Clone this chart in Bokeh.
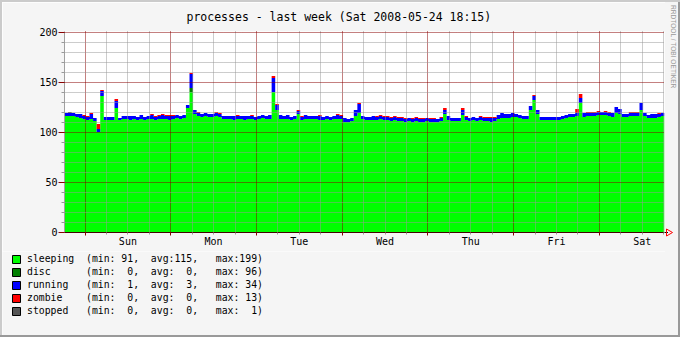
from datetime import datetime, timedelta
import numpy as np
from bokeh.plotting import figure
from bokeh.layouts import column, row
from bokeh.models import (ColumnDataSource, Range1d, LinearAxis, Grid, FixedTicker,
                          Legend, LegendItem, Div, Plot, CustomJSTickFormatter)
from bokeh.core.properties import value
from bokeh.embed import file_html
from bokeh.resources import INLINE

# ---------------- data (hourly, starting Sat 2008-05-17 18:15) ----------------
title_text = "processes - last week (Sat 2008-05-24 18:15)"
watermark_text = "RRDTOOL / TOBI OETIKER"
start_time = datetime(2008, 5, 17, 18, 15)
n_hours = 168

sleeping = [
    116, 116, 116, 115, 114, 113, 112, 113, 111, 100,
    136, 112, 112, 112, 124, 112, 113, 113, 112, 113,
    112, 113, 112, 113, 113, 112, 113, 113, 113, 112,
    113, 114, 113, 114, 124, 140, 118, 116, 115, 116,
    115, 115, 116, 115, 113, 113, 113, 112, 113, 113,
    112, 113, 113, 112, 113, 114, 113, 113, 140, 122,
    113, 113, 113, 112, 113, 118, 112, 113, 113, 113,
    113, 112, 112, 113, 112, 113, 113, 113, 110, 110,
    111, 116, 119, 113, 112, 112, 112, 112, 113, 112,
    112, 111, 112, 111, 111, 110, 111, 110, 111, 110,
    110, 111, 110, 110, 110, 111, 118, 112, 111, 111,
    111, 117, 112, 111, 112, 111, 112, 111, 111, 110,
    111, 113, 114, 114, 114, 115, 115, 114, 113, 113,
    122, 132, 118, 112, 112, 112, 112, 112, 112, 113,
    114, 115, 115, 116, 129, 115, 116, 116, 116, 117,
    117, 117, 116, 115, 119, 118, 115, 115, 116, 116,
    116, 122, 116, 114, 114, 114, 115, 116,
]
disc = [0] * 35 + [4] + [0] * 132
running = [
    3, 3, 3, 3, 4, 3, 3, 5, 3, 3,
    5, 3, 3, 3, 7, 2, 3, 3, 4, 3,
    3, 4, 3, 3, 4, 3, 3, 4, 3, 4,
    3, 3, 3, 3, 3, 14, 4, 3, 3, 3,
    3, 3, 3, 3, 3, 3, 3, 4, 3, 3,
    4, 3, 3, 3, 3, 3, 3, 4, 14, 5,
    4, 3, 4, 3, 3, 3, 3, 4, 3, 3,
    3, 4, 3, 3, 3, 3, 4, 3, 4, 3,
    3, 6, 9, 3, 3, 3, 4, 3, 3, 3,
    3, 3, 3, 3, 3, 3, 3, 3, 3, 3,
    3, 3, 3, 3, 3, 3, 4, 4, 3, 3,
    3, 5, 3, 3, 3, 3, 3, 3, 3, 4,
    3, 4, 5, 4, 4, 4, 3, 3, 3, 3,
    4, 4, 4, 3, 3, 3, 3, 3, 3, 3,
    3, 3, 3, 3, 5, 4, 3, 3, 3, 3,
    3, 3, 3, 4, 6, 5, 3, 3, 3, 3,
    3, 7, 3, 3, 4, 4, 3, 3,
]
zombie = [
    0, 0, 0, 0, 0, 1, 1, 1, 0, 5,
    1, 0, 0, 0, 2, 0, 0, 0, 0, 0,
    0, 0, 0, 0, 1, 1, 1, 1, 1, 1,
    1, 0, 0, 0, 0, 1, 0, 1, 0, 0,
    0, 0, 1, 1, 0, 0, 0, 0, 1, 0,
    0, 0, 1, 0, 0, 0, 0, 0, 2, 1,
    0, 0, 0, 0, 0, 1, 1, 0, 0, 0,
    0, 1, 0, 0, 0, 0, 1, 1, 0, 0,
    0, 0, 1, 0, 0, 0, 0, 1, 1, 1,
    1, 1, 1, 1, 1, 1, 0, 1, 1, 1,
    1, 0, 1, 1, 0, 1, 2, 0, 0, 0,
    0, 2, 1, 0, 0, 0, 1, 1, 1, 1,
    1, 0, 0, 0, 0, 0, 0, 0, 0, 0,
    0, 1, 0, 0, 0, 0, 0, 0, 0, 0,
    0, 0, 0, 4, 4, 0, 1, 1, 1, 1,
    0, 1, 1, 0, 0, 0, 0, 0, 1, 1,
    1, 0, 0, 0, 0, 0, 1, 0,
]
stopped = [0, 1] + [0] * 166

series_names = ["sleeping", "disc", "running", "zombie", "stopped"]
series_colors = ["#00FF00", "#007F00", "#0000FF", "#FF0000", "#555555"]
stat_min = [91, 0, 1, 0, 0]
stat_avg = [115, 0, 3, 0, 0]
stat_max = [199, 96, 34, 13, 1]

day_labels = ["Sun", "Mon", "Tue", "Wed", "Thu", "Fri", "Sat"]
y_major = [0, 50, 100, 150, 200]
y_minor = [v for v in range(10, 200, 10) if v % 50 != 0]

# ---------------- helpers ----------------
HOUR = 3600 * 1000.0
EPOCH = datetime(1970, 1, 1)


def ms(dt):
    return (dt - EPOCH).total_seconds() * 1000.0


t0 = ms(start_time)
t_end = t0 + n_hours * HOUR
first_midnight = datetime(2008, 5, 18)
midnights = [ms(first_midnight + timedelta(days=i)) for i in range(7)]
noons = [ms(first_midnight + timedelta(days=i, hours=12)) for i in range(7)]
six_minor = [ms(first_midnight + timedelta(hours=6 * i)) for i in range(28) if i % 4 != 0]

BACK = "#F5F5F5"
GRID_C = "#999999"
MGRID_C = "#880000"
FONT = "DejaVu Sans Mono"
Y0, Y1 = -0.5, 200.5   # half-pixel offset keeps 1px grid lines crisp

# layout (canvas pixels)
SHADE = 2
P_W, P_H = 663, 249
P2_H = 337 - 2 * SHADE - P_H
SIDE_W = 680 - 2 * SHADE - P_W

p = figure(width=P_W, height=P_H, output_backend="svg", toolbar_location=None,
           x_range=Range1d(t0, t_end), y_range=Range1d(Y0, Y1),
           x_axis_type=None, y_axis_type=None,
           min_border_left=62, min_border_right=1, min_border_top=29, min_border_bottom=19,
           background_fill_color="white", border_fill_color=BACK,
           outline_line_color=None)

p.title.text = title_text
p.title.align = "left"
p.title.offset = 122
p.title.vertical_align = "top"
p.title.standoff = 12
p.title.text_font = FONT
p.title.text_font_size = "11.5px"
p.title.text_font_style = "normal"
p.title.text_color = "black"

# ---------------- stacked step areas ----------------
x_edges = t0 + np.arange(n_hours + 1) * HOUR
cum = np.full(n_hours + 1, Y0)
all_series = [sleeping, disc, running, zombie, stopped]
for name, vals, col in zip(series_names, all_series, series_colors):
    v = np.array(list(vals) + [vals[-1]], dtype=float)
    if name == series_names[0]:
        v = v - Y0
    lo = cum.copy()
    hi = cum + v
    src = ColumnDataSource(dict(x=x_edges, lo=lo, hi=hi))
    if hasattr(p, "varea_step"):
        p.varea_step(x="x", y1="lo", y2="hi", step_mode="after", fill_color=col, source=src)
    else:
        src2 = ColumnDataSource(dict(x=x_edges[:-1] + HOUR / 2, lo=lo[:-1], hi=hi[:-1]))
        p.vbar(x="x", bottom="lo", top="hi", width=HOUR * 1.05, fill_color=col,
               line_color=None, source=src2)
    cum = hi

# ---------------- grids (drawn over the areas) ----------------
xgrid = Grid(dimension=0, ticker=FixedTicker(ticks=midnights, minor_ticks=six_minor),
             grid_line_color=MGRID_C, grid_line_dash="1 1", grid_line_width=1,
             minor_grid_line_color=GRID_C, minor_grid_line_dash="1 1", level="guide")
ygrid = Grid(dimension=1, ticker=FixedTicker(ticks=y_major, minor_ticks=y_minor),
             grid_line_color=MGRID_C, grid_line_dash="1 1", grid_line_width=1,
             minor_grid_line_color=GRID_C, minor_grid_line_dash="1 1", level="guide")
p.add_layout(xgrid)
p.add_layout(ygrid)

# ---------------- axes ----------------
yaxis = LinearAxis(ticker=FixedTicker(ticks=y_major, minor_ticks=y_minor),
                   axis_line_color="#A0A0A0",
                   major_tick_line_color=MGRID_C, major_tick_out=6, major_tick_in=0,
                   minor_tick_line_color=GRID_C, minor_tick_out=3, minor_tick_in=0,
                   major_label_text_font=FONT, major_label_text_font_size="10px",
                   major_label_text_color="black", major_label_standoff=1)
p.add_layout(yaxis, "left")

xticks_axis = LinearAxis(ticker=FixedTicker(ticks=midnights, minor_ticks=six_minor),
                         axis_line_color="black",
                         major_tick_line_color=MGRID_C, major_tick_out=3, major_tick_in=0,
                         minor_tick_line_color=GRID_C, minor_tick_out=2, minor_tick_in=0,
                         formatter=CustomJSTickFormatter(code="return ''"),
                         major_label_text_font_size="1px", major_label_standoff=0)
p.add_layout(xticks_axis, "below")

xlabel_axis = LinearAxis(ticker=FixedTicker(ticks=noons),
                         axis_line_color=None, major_tick_line_color=None,
                         minor_tick_line_color=None, major_tick_out=0, major_tick_in=0,
                         minor_tick_out=0, minor_tick_in=0,
                         major_label_overrides={float(n): d for n, d in zip(noons, day_labels)},
                         major_label_text_font=FONT, major_label_text_font_size="10px",
                         major_label_text_color="black", major_label_standoff=0)
p.add_layout(xlabel_axis, "below")

# ---------------- legend ----------------
legend_texts = [
    f"{name:<10}(min:{mn:>3},  avg:{av:>3},   max:{mx:>3})".replace(" ", "\u00a0")
    for name, mn, av, mx in zip(series_names, stat_min, stat_avg, stat_max)
]

if "frame_align" in Plot.properties():
    p2 = figure(width=P_W, height=P2_H, output_backend="svg", toolbar_location=None,
                x_range=Range1d(0, 1), y_range=Range1d(0, 1),
                x_axis_type=None, y_axis_type=None, min_border=0,
                min_border_left=0, min_border_right=0, min_border_top=0, min_border_bottom=0,
                background_fill_color=BACK, border_fill_color=BACK, outline_line_color=None)
    p2.frame_align = False
    items = []
    for txt, col in zip(legend_texts, series_colors):
        r = p2.rect(x=[np.nan], y=[np.nan], width=1, height=1, fill_color=col,
                    line_color="black", line_width=1)
        items.append(LegendItem(label=value(txt), renderers=[r]))
    legend = Legend(items=items, location=(9, 18), orientation="vertical",
                    glyph_width=10, glyph_height=10, label_standoff=6, label_height=13,
                    label_width=10, spacing=0, padding=0, margin=0,
                    border_line_color=None, background_fill_alpha=0,
                    label_text_font=FONT, label_text_font_size="9.8px",
                    label_text_color="black", label_text_baseline="middle")
    p2.add_layout(legend)
    bottom_part = p2
else:
    parts = ['<svg xmlns="http://www.w3.org/2000/svg" width="%d" height="%d" style="display:block">'
             % (P_W, P2_H)]
    for i, (txt, col) in enumerate(zip(legend_texts, series_colors)):
        cy = 7.3 + 13 * i
        parts.append('<rect x="10.5" y="%.1f" width="8" height="8" fill="%s" stroke="black"/>'
                     % (cy - 4, col))
        parts.append('<text x="25" y="%.1f" font-family="%s" font-size="9.8px" '
                     'dominant-baseline="middle" fill="black">%s</text>' % (cy, FONT, txt))
    parts.append('</svg>')
    bottom_part = Div(text="".join(parts), width=P_W, height=P2_H, margin=0,
                      styles={"background-color": BACK})

# ---------------- right strip: axis arrow + watermark ----------------
ay = 230.5
side_svg = (
    '<svg xmlns="http://www.w3.org/2000/svg" width="%d" height="%d" style="display:block">'
    '<line x1="0" y1="%.1f" x2="3" y2="%.1f" stroke="black" stroke-width="1"/>'
    '<polygon points="1.5,%.1f 7.5,%.1f 1.5,%.1f" fill="none" stroke="red" stroke-width="1"/>'
    '<text transform="translate(8,3) rotate(90)" font-family="%s" font-size="6.6px" '
    'fill="#999999" dominant-baseline="middle">%s</text></svg>'
    % (SIDE_W, P_H + P2_H, ay, ay, ay - 3.5, ay, ay + 3.5, FONT, watermark_text)
)
side = Div(text=side_svg, width=SIDE_W, height=P_H + P2_H, margin=0,
           styles={"background-color": BACK})

# ---------------- 3D-ish frame ----------------
SHADE_A = "#CBCBCB"
SHADE_B = "#999999"
top_bar = Div(text="", width=680, height=SHADE, margin=0, styles={"background-color": SHADE_A})
bottom_bar = Div(text="", width=680, height=SHADE, margin=0, styles={"background-color": SHADE_B})
left_bar = Div(text="", width=SHADE, height=P_H + P2_H, margin=0,
               styles={"background-color": SHADE_A})
right_bar = Div(text="", width=SHADE, height=P_H + P2_H, margin=0,
                styles={"background-color": SHADE_B})

inner = column(p, bottom_part, spacing=0)
middle = row(left_bar, inner, side, right_bar, spacing=0)
layout = column(top_bar, middle, bottom_bar, spacing=0)

open("out.html", "w").write(file_html(layout, INLINE))
